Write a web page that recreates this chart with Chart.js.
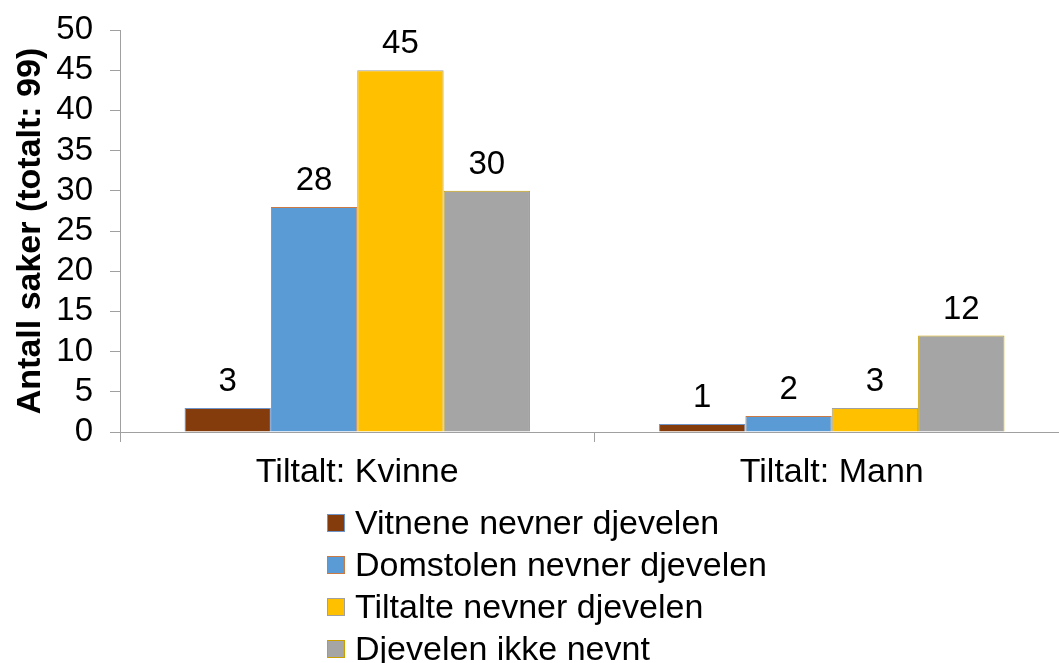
<!DOCTYPE html>
<html>
<head>
<meta charset="utf-8">
<script src="https://cdn.jsdelivr.net/npm/chart.js@4/dist/chart.umd.min.js"></script>
<style>
  html, body { margin: 0; padding: 0; background: #fff; overflow: hidden; }
  #wrap { position: relative; width: 1069px; height: 663px; }
  #legend {
    position: absolute; left: 327px; top: 501px;
    font-family: "Liberation Sans", Arial, sans-serif; font-size: 34px; color: #000;
  }
  #legend .row { height: 42px; line-height: 42px; white-space: nowrap; }
  #legend .box {
    display: inline-block; width: 16px; height: 16px; margin-right: 10px;
    vertical-align: middle; position: relative; top: -2px;
  }
</style>
</head>
<body>
<div id="wrap">
  <canvas id="chart"></canvas>
  <div id="legend"></div>
</div>
<script>
// data
const categories = ["Tiltalt: Kvinne", "Tiltalt: Mann"];
const seriesNames = [
  "Vitnene nevner djevelen",
  "Domstolen nevner djevelen",
  "Tiltalte nevner djevelen",
  "Djevelen ikke nevnt",
];
const vitnene = [3, 1];
const domstolen = [28, 2];
const tiltalte = [45, 3];
const ikkeNevnt = [30, 12];
const yMin = 0, yMax = 50, yStep = 5;

const fills = ["#843C0C", "#5B9BD5", "#FFC000", "#A5A5A5"];
const outlines = ["#6F95C8", "#C97A45", "#A0A0A0", "#C9A000"];
const axisColor = "#A0A0A0";
const fontFamily = '"Liberation Sans", Arial, sans-serif';

const valueLabels = {
  id: "valueLabels",
  afterDatasetsDraw(chart) {
    const ctx = chart.ctx;
    ctx.save();
    ctx.font = "33px " + fontFamily;
    ctx.fillStyle = "#000";
    ctx.textAlign = "center";
    ctx.textBaseline = "alphabetic";
    chart.data.datasets.forEach((ds, i) => {
      chart.getDatasetMeta(i).data.forEach((bar, j) => {
        ctx.fillText(String(ds.data[j]), bar.x, bar.y - 17);
      });
    });
    ctx.restore();
  },
};

const allSeries = [vitnene, domstolen, tiltalte, ikkeNevnt];
const ctx = document.getElementById("chart").getContext("2d");
const chart = new Chart(ctx, {
  type: "bar",
  data: {
    labels: categories,
    datasets: allSeries.map((s, i) => ({
      label: seriesNames[i],
      data: s,
      backgroundColor: fills[i],
      borderColor: outlines[i],
      borderWidth: 1,
      categoryPercentage: 0.728,
      barPercentage: 1.0,
    })),
  },
  options: {
    responsive: true,
    maintainAspectRatio: false,
    animation: false,
    layout: { padding: { top: 30, left: 0, right: 0, bottom: 0 } },
    plugins: {
      legend: { display: false },
      tooltip: { enabled: false },
    },
    scales: {
      x: {
        afterFit: (scale) => { scale.height = 231; },
        border: { color: axisColor, width: 1 },
        grid: {
          offset: true,
          drawOnChartArea: false,
          tickLength: 10,
          color: axisColor,
        },
        ticks: {
          color: "#000",
          padding: 10,
          font: { family: fontFamily, size: 34 },
        },
      },
      y: {
        min: yMin,
        max: yMax,
        afterFit: (scale) => {
          scale.width = 120;
          scale.paddingTop = 0;
          scale.paddingBottom = 0;
        },
        border: { color: axisColor, width: 1 },
        grid: {
          drawOnChartArea: false,
          tickLength: 10,
          color: axisColor,
        },
        ticks: {
          stepSize: yStep,
          autoSkip: false,
          color: "#000",
          padding: 17,
          font: { family: fontFamily, size: 33 },
        },
        title: {
          display: true,
          text: "Antall saker (totalt: 99)",
          color: "#000",
          padding: { top: 10, bottom: 0 },
          font: { family: fontFamily, size: 34, weight: "bold" },
        },
      },
    },
  },
  plugins: [valueLabels],
});

// legend, one entry per row like the original
const legendElem = document.getElementById("legend");
seriesNames.forEach((name, i) => {
  const row = document.createElement("div");
  row.className = "row";
  const box = document.createElement("span");
  box.className = "box";
  box.style.background = fills[i];
  box.style.border = "1.5px solid " + outlines[i];
  row.appendChild(box);
  row.appendChild(document.createTextNode(name));
  legendElem.appendChild(row);
});
</script>
</body>
</html>
